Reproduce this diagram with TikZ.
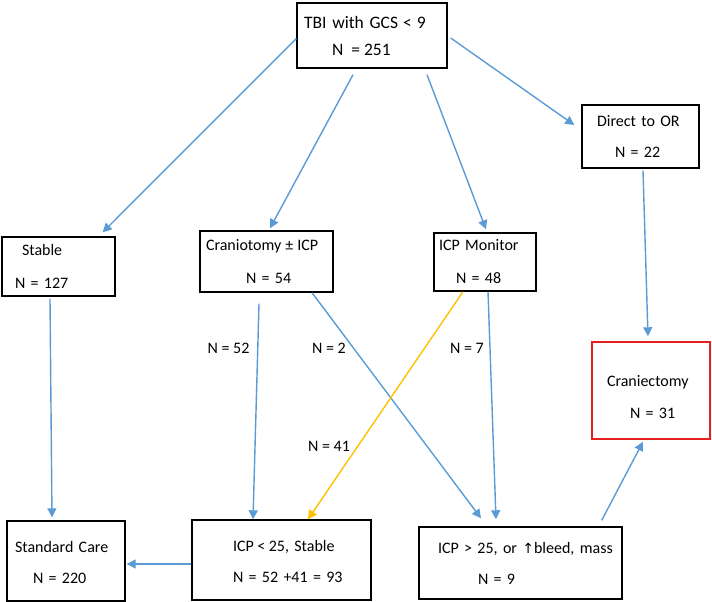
\documentclass[tikz,border=0pt]{standalone}
\usepackage{fontspec}
\setmainfont{Carlito}
\newfontfamily\symfont{DejaVu Sans}
\usepackage{tikz}
\usetikzlibrary{arrows.meta, positioning}
\definecolor{flowblue}{RGB}{91,155,213}
\definecolor{flowgold}{RGB}{255,192,0}
\definecolor{flowred}{RGB}{230,30,30}
\tikzset{
    process/.style = {rectangle, draw=black, line width=1.4pt, inner xsep=0pt, inner ysep=0pt, align=left, font=\fontsize{16}{19}\selectfont},
    redbox/.style = {process, draw=flowred},
    arrow/.style = {flowblue, line width=1.4pt, -{Triangle[length=9pt,width=9pt]}},
    goldarrow/.style = {arrow, flowgold},
    count/.style = {inner sep=0pt, font=\fontsize{16}{19}\selectfont}
}

\begin{document}
\begin{tikzpicture}[x=1pt,y=-1pt]
    \useasboundingbox (0,0) rectangle (712,602);

    % boxes
    \node[process, font=\fontsize{17.5}{20}\selectfont, minimum width=150, minimum height=65, text width=150] (tbi) at (372,35.5)
        {\hspace*{7pt}TBI with GCS\hspace{5pt}<\hspace{5pt}9\\[7pt]\hspace*{35pt}N\hspace{8pt}=\hspace{4pt}251};
    \node[process, minimum width=117, minimum height=63, text width=117] (dor) at (640.5,136.5)
        {\hspace*{15pt}Direct to OR\\[12pt]\hspace*{33pt}N = 22};
    \node[process, minimum width=113, minimum height=59, text width=113] (stable) at (58.5,266.5)
        {\hspace*{20pt}Stable\\[14pt]\hspace*{13pt}N = 127};
    \node[process, minimum width=133, minimum height=61, text width=133] (cran) at (266.5,261.5)
        {\hspace*{6pt}Craniotomy\hspace{4pt}±\hspace{4pt}ICP\\[14pt]\hspace*{46pt}N = 54};
    \node[process, minimum width=102, minimum height=58, text width=102] (mon) at (485,262)
        {\hspace*{5pt}ICP Monitor\\[14pt]\hspace*{22pt}N = 48};
    \node[redbox, minimum width=118, minimum height=97, text width=118] (crx) at (651,390.5)
        {\rule{0pt}{25pt}\hspace*{15pt}Craniectomy\\[13pt]\hspace*{38pt}N = 31};
    \node[process, minimum width=118, minimum height=80, text width=118] (std) at (66,561)
        {\rule{0pt}{15pt}\hspace*{8pt}Standard Care\\[12pt]\hspace*{26pt}N = 220};
    \node[process, minimum width=179, minimum height=80, text width=179] (low) at (281.5,560)
        {\rule{0pt}{15pt}\hspace*{41pt}ICP\hspace{3.5pt}<\hspace{3.5pt}25, Stable\\[12pt]\hspace*{41pt}N = 52 +41 = 93};
    \node[process, minimum width=203, minimum height=72, text width=203] (high) at (520.5,563)
        {\hspace*{19pt}ICP > 25, or {\symfont\fontsize{14}{16}\selectfont ↑}bleed, mass\\[12pt]\hspace*{59pt}N = 9};

    % counts on the branches
    \node[count] (n52) at (228.5,348) {N = 52};
    \node[count] (n2) at (329,348) {N = 2};
    \node[count] (n7) at (467,348) {N = 7};
    \node[count] (n41) at (329,446) {N = 41};

    % arrows
    \draw[arrow] ([yshift=-3pt]tbi.west) -- ([xshift=-13pt,yshift=4pt]stable.north east);
    \draw[arrow] ([xshift=-19pt,yshift=-6pt]tbi.south) -- ([xshift=3.5pt,yshift=2pt]cran.north);
    \draw[arrow] ([xshift=55pt,yshift=-6pt]tbi.south) -- ([xshift=1pt,yshift=3pt]mon.north);
    \draw[arrow] ([xshift=3pt,yshift=-2.5pt]tbi.east) -- ([xshift=-7pt,yshift=11.5pt]dor.west);
    \draw[arrow] ([xshift=2.5pt,yshift=-2pt]dor.south) -- ([xshift=-3pt,yshift=5pt]crx.north);
    \draw[arrow] ([xshift=-8.5pt,yshift=-2pt]stable.south) -- ([xshift=-14pt,yshift=3pt]std.north);
    \draw[arrow] ([xshift=-7.5pt,yshift=-11pt]cran.south) -- ([xshift=-28.5pt]low.north);
    \draw[arrow] ([xshift=45.5pt]cran.south) -- ([xshift=-39.5pt,yshift=8pt]high.north);
    \draw[goldarrow] ([xshift=-22pt]mon.south) -- ([xshift=26.5pt]low.north);
    \draw[arrow] ([xshift=3pt]mon.south) -- ([xshift=-24.5pt,yshift=7pt]high.north);
    \draw[arrow] ([xshift=-21pt,yshift=6pt]high.north east) -- ([xshift=-8pt,yshift=-2pt]crx.south);
    \draw[arrow] ([yshift=-4pt]low.west) -- ([xshift=1pt,yshift=-3pt]std.east);
\end{tikzpicture}
\end{document}
